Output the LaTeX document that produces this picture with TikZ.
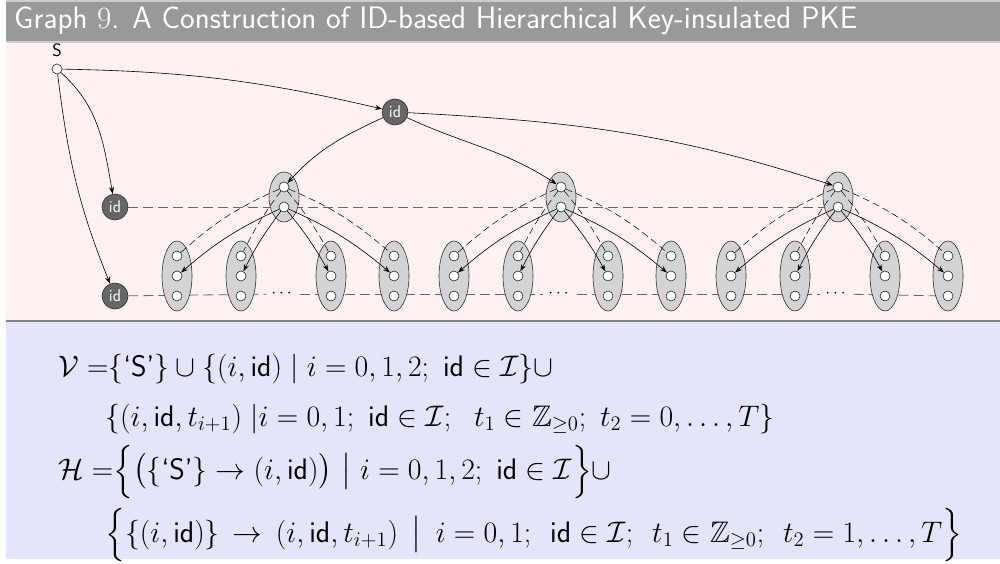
\documentclass[tikz,border=0pt]{standalone}
\usepackage{amsmath,amssymb,graphicx}
\usetikzlibrary{shapes.geometric,arrows.meta}
\pgfdeclarelayer{bg}
\pgfdeclarelayer{behind}
\pgfsetlayers{bg,behind,main}
\definecolor{titlegray}{RGB}{153,153,153}
\definecolor{titleline}{RGB}{205,205,205}
\definecolor{pinkbg}{RGB}{253,241,241}
\definecolor{sepgray}{RGB}{135,128,128}
\definecolor{bluebg}{RGB}{228,228,250}
\definecolor{ellgray}{RGB}{211,211,214}
\definecolor{idgray}{RGB}{102,102,102}
\begin{document}
\begin{tikzpicture}[x=1pt,y=1pt,
  small/.style={circle,draw=black!85,fill=white,minimum size=10pt,inner sep=0pt,line width=0.6pt},
  idn/.style={circle,draw=black!80,fill=idgray,minimum size=26pt,inner sep=0pt,text=white,font=\sffamily\fontsize{17}{17}\selectfont,line width=0.6pt},
  pell/.style={ellipse,draw=black!80,fill=ellgray,minimum width=30pt,minimum height=50pt,inner sep=0pt,line width=0.6pt},
  cell/.style={pell,minimum height=70pt},
  edge/.style={line width=0.6pt,-{Stealth[length=7pt,width=5pt]}},
  dedge/.style={line width=0.5pt,dash pattern=on 7pt off 4pt},
  hline/.style={line width=0.8pt,draw=black!60,dash pattern=on 10pt off 5pt},
  mathline/.style={anchor=base west,inner sep=0pt,font=\fontsize{17.28}{20}\selectfont}
]
\useasboundingbox (0,0) rectangle (1000,563);
\begin{pgfonlayer}{bg}
\fill[white] (0,0) rectangle (1000,563);
\fill[titleline] (6,563) rectangle (1000,520);
\fill[titlegray] (6,561) rectangle (1000,521.5);
\fill[pinkbg] (6,520) rectangle (1000,243);
\fill[sepgray] (6,243) rectangle (1000,241.3);
\fill[bluebg] (6,241.3) rectangle (1000,4);
\end{pgfonlayer}

\node[anchor=base west,inner sep=0pt,text=white,font=\sffamily\fontsize{31}{31}\selectfont] (title) at (14,534)
  {Graph {\rmfamily 9}. A Construction of ID-based Hierarchical Key-insulated PKE};

\node[small] (S) at (57,494) {};
\node[anchor=base,inner sep=0pt,font=\sffamily\fontsize{18}{18}\selectfont] (Slab) at (57,506) {S};

\node[idn] (id1) at (395,451) {id};
\node[idn] (id2) at (115,356) {id};
\node[idn] (id3) at (115,267) {id};

\foreach \g/\x in {1/284,2/561,3/838}{
  \node[pell] (P\g) at (\x,366) {};
  \node[small] (T\g) at (\x,376) {};
  \node[small] (B\g) at (\x,356) {};
  \foreach \k/\dx in {1/-107,2/-43,3/47,4/110}{
    \node[cell] (C\g\k) at ({\x+\dx},287) {};
    \node[small] (C\g\k-t) at ({\x+\dx},307) {};
    \node[small] (C\g\k-m) at ({\x+\dx},287) {};
    \node[small] (C\g\k-b) at ({\x+\dx},267) {};
  }
  \node[inner sep=5pt,font=\fontsize{16}{16}\selectfont] (D\g) at (\x-1,269) {$\cdots$};
}

\begin{pgfonlayer}{behind}
\draw[hline] (id2) -- (B3);
\draw[hline] (id3) -- (D1);
\draw[hline] (D1) -- (D2);
\draw[hline] (D2) -- (D3);
\draw[hline] (D3) -- (C34-b);
\end{pgfonlayer}

\draw[edge] (S) to[bend left=6] (id1);
\draw[edge] (S) to[out=-42,in=100] (id2);
\draw[edge] (S) to[out=-83,in=112] (id3);
\draw[edge] (id1) to[out=205,in=48] (T1);
\draw[edge] (id1) to[out=-25,in=147] (T2);
\draw[edge] (id1) to[out=-3,in=162] (T3);

\foreach \g in {1,2,3}{
  \draw[edge] (B\g) to[bend right=8] (C\g1-m);
  \draw[edge] (B\g) to[bend right=5] (C\g2-m);
  \draw[edge] (B\g) to[bend left=5] (C\g3-m);
  \draw[edge] (B\g) to[bend left=8] (C\g4-m);
  \draw[dedge] (T\g) to[bend right=9] (C\g1-t);
  \draw[dedge] (T\g) to[bend right=5] (C\g2-t);
  \draw[dedge] (T\g) to[bend left=5] (C\g3-t);
  \draw[dedge] (T\g) to[bend left=9] (C\g4-t);
}

\node[mathline] (L1) at (58,187)
  {\scalebox{1.72}{$\mathcal{V}\;\mathord{=}\{\textsf{`S'}\}\cup\{(i,\mathsf{id})\mid i=0,1,2;\ \mathsf{id}\in\mathcal{I}\}\cup$}};
\node[mathline] (L2) at (105,137)
  {\scalebox{1.72}{$\{(i,\mathsf{id},t_{i+1})\;|i=0,1;\ \mathsf{id}\in\mathcal{I};\ \ t_1\in\mathbb{Z}_{\geq0};\ t_2=0,\dots,T\}$}};
\node[mathline] (L3) at (58,84)
  {\scalebox{1.72}{$\mathcal{H}\;\mathord{=}\Big\{\big(\{\textsf{`S'}\}\to(i,\mathsf{id})\big)\ \big|\ i=0,1,2;\ \mathsf{id}\in\mathcal{I}\Big\}\cup$}};
\node[mathline] (L4) at (105,21)
  {\scalebox{1.72}{$\Big\{\{(i,\mathsf{id})\}\,\to\,(i,\mathsf{id},t_{i+1})\ \,\big|\ \,i=0,1;\ \,\mathsf{id}\in\mathcal{I};\ \,t_1\in\mathbb{Z}_{\geq0};\ \,t_2=1,\dots,T\Big\}$}};
\end{tikzpicture}
\end{document}
